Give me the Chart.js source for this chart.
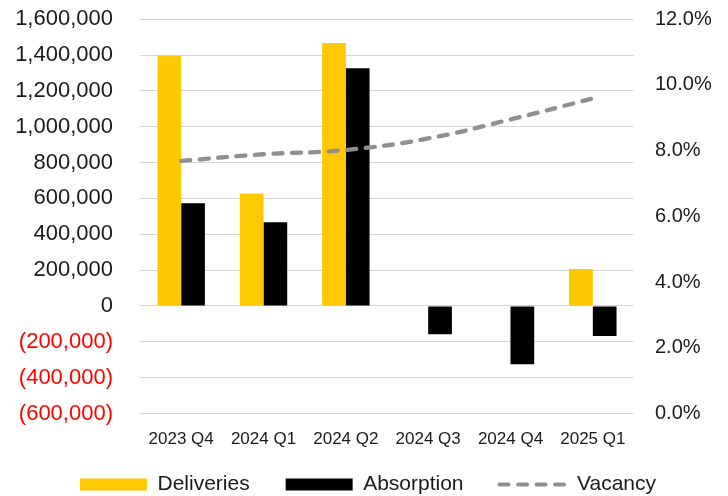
<!DOCTYPE html>
<html><head><meta charset="utf-8">
<script src="https://cdn.jsdelivr.net/npm/chart.js@4"></script>
<style>html,body{margin:0;padding:0;background:#fff}</style>
</head><body>
<canvas id="c" width="728" height="496"></canvas>
<script>
const categories = ['2023 Q4', '2024 Q1', '2024 Q2', '2024 Q3', '2024 Q4', '2025 Q1'];
const deliveries = [1398000, 628000, 1467000, null, null, 206000];
const absorption = [573000, 467000, 1326000, -158000, -325000, -167000];
const vacancy = [7.69, 7.89, 8.02, 8.37, 8.95, 9.59];
const leftAxis = { min: -600000, max: 1600000, step: 200000 };
const rightAxis = { min: 0, max: 12, step: 2 };

const fmtNum = v => v < 0 ? '(' + Math.abs(v).toLocaleString('en-US') + ')' : v.toLocaleString('en-US');

Chart.defaults.font.family = '"Liberation Sans", Arial, sans-serif';
Chart.defaults.color = '#1a1a1a';

const legendNudge = {
  id: 'legendNudge',
  afterLayout(chart) {
    const l = chart.legend;
    if (l) { l.top -= 12.5; l.bottom -= 12.5; }
  }
};

new Chart(document.getElementById('c'), {
  type: 'bar',
  plugins: [legendNudge],
  data: {
    labels: categories,
    datasets: [
      { label: 'Deliveries', data: deliveries, backgroundColor: '#FFC800', borderWidth: 0,
        yAxisID: 'y', order: 1, pointStyle: 'rect', categoryPercentage: 0.576, barPercentage: 1 },
      { label: 'Absorption', data: absorption, backgroundColor: '#000000', borderWidth: 0,
        yAxisID: 'y', order: 1, pointStyle: 'rect', categoryPercentage: 0.576, barPercentage: 1 },
      { type: 'line', label: 'Vacancy', data: vacancy, yAxisID: 'y1', order: 0,
        borderColor: '#8f8f8f', backgroundColor: '#8f8f8f', borderWidth: 4.3,
        borderDash: [9, 9.5], borderCapStyle: 'round', pointRadius: 0, pointStyle: 'line',
        tension: 0.4, fill: false }
    ]
  },
  options: {
    responsive: false,
    animation: false,
    layout: { padding: { left: 0, right: -8, top: 19, bottom: -21.5 } },
    plugins: {
      tooltip: { enabled: false },
      legend: {
        position: 'bottom',
        align: 'center',
        labels: {
          usePointStyle: true,
          pointStyleWidth: 67,
          boxHeight: 12,
          padding: 36,
          color: '#1a1a1a',
          font: { size: 21 },
          sort: (a, b) => a.datasetIndex - b.datasetIndex,
          generateLabels: chart => {
            const items = Chart.defaults.plugins.legend.labels.generateLabels(chart);
            items.forEach(it => {
              const ds = chart.data.datasets[it.datasetIndex];
              if (ds.type === 'line') {
                it.lineDash = ds.borderDash;
                it.lineCap = 'round';
                it.lineWidth = 4;
                it.strokeStyle = ds.borderColor;
                it.pointStyle = 'line';
              } else {
                it.lineWidth = 0;
                it.pointStyle = 'rect';
              }
            });
            return items;
          }
        }
      }
    },
    scales: {
      x: {
        grid: { display: false, drawTicks: false },
        border: { display: false },
        ticks: { font: { size: 17 }, color: '#1a1a1a', padding: 16, maxRotation: 0 },
        afterFit: s => { s.height = 37; }
      },
      y: {
        position: 'left',
        min: leftAxis.min, max: leftAxis.max,
        grid: { color: '#d6d6d6', lineWidth: 1, drawTicks: true, tickLength: 21, tickColor: 'rgba(0,0,0,0)' },
        border: { display: false },
        ticks: {
          stepSize: leftAxis.step,
          padding: 6,
          font: { size: 22 },
          color: ctx => (ctx.tick && ctx.tick.value < 0) ? '#ff0000' : '#1a1a1a',
          callback: v => fmtNum(v)
        },
        afterFit: s => { s.width = 140; }
      },
      y1: {
        position: 'right',
        min: rightAxis.min, max: rightAxis.max,
        grid: { display: true, drawOnChartArea: false, drawTicks: true, tickLength: 15, tickColor: 'rgba(0,0,0,0)' },
        border: { display: false },
        ticks: {
          stepSize: rightAxis.step,
          padding: 6,
          font: { size: 20 },
          color: '#1a1a1a',
          callback: v => v.toFixed(1) + '%'
        },
        afterFit: s => { s.width = 102; }
      }
    }
  }
});
</script>
</body></html>
